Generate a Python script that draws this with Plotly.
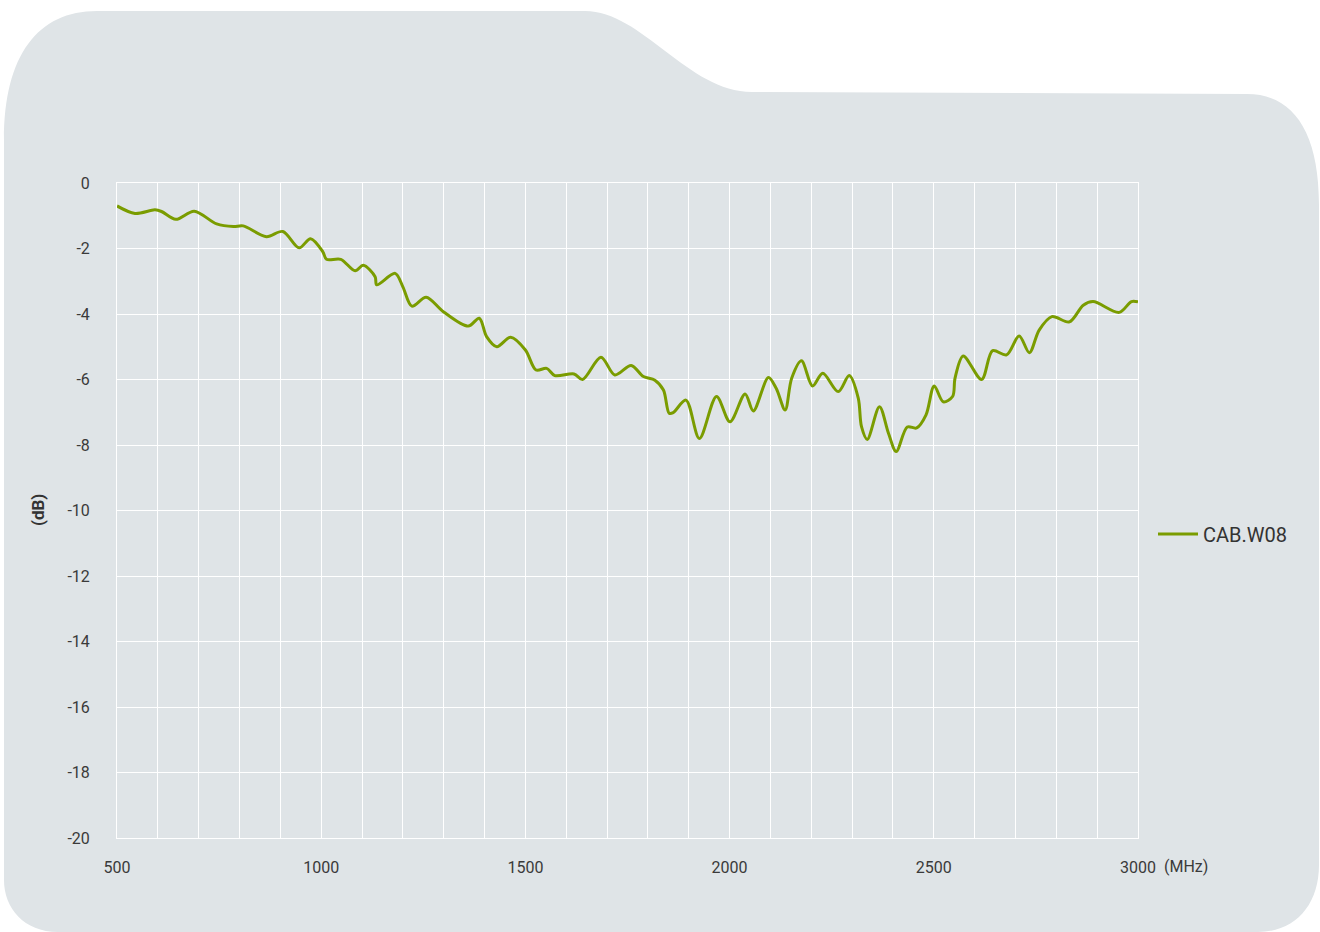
import plotly.graph_objects as go

# ---- data ----
freq_mhz = [500, 544, 593, 609, 644, 689, 744, 785, 809, 866, 906, 946, 974, 1004, 1013,
            1048, 1083, 1103, 1132, 1136, 1181, 1200, 1222, 1257, 1299, 1360, 1387, 1405,
            1430, 1464, 1500, 1526, 1552, 1572, 1619, 1640, 1685, 1719, 1759, 1789, 1817,
            1838, 1852, 1862, 1893, 1926, 1968, 2001, 2038, 2058, 2095, 2114, 2136, 2152,
            2176, 2203, 2228, 2266, 2293, 2315, 2323, 2337, 2367, 2389, 2408, 2435, 2458,
            2481, 2501, 2523, 2546, 2552, 2572, 2617, 2644, 2678, 2709, 2734, 2758, 2789,
            2832, 2866, 2890, 2954, 2984, 3000]
loss_db = [-0.70, -0.93, -0.82, -0.87, -1.11, -0.86, -1.25, -1.33, -1.31, -1.64, -1.48, -1.98,
           -1.70, -2.10, -2.33, -2.33, -2.68, -2.51, -2.86, -3.11, -2.76, -3.17, -3.76, -3.49,
           -3.93, -4.37, -4.13, -4.69, -5.00, -4.71, -5.10, -5.71, -5.66, -5.88, -5.83, -6.00,
           -5.32, -5.86, -5.57, -5.91, -6.02, -6.32, -7.03, -7.01, -6.63, -7.80, -6.52, -7.29,
           -6.44, -6.96, -5.94, -6.27, -6.93, -5.96, -5.43, -6.20, -5.81, -6.37, -5.88, -6.57,
           -7.44, -7.83, -6.83, -7.64, -8.20, -7.45, -7.48, -7.08, -6.20, -6.68, -6.52, -5.96,
           -5.28, -6.00, -5.12, -5.25, -4.67, -5.18, -4.49, -4.08, -4.24, -3.73, -3.62, -3.95,
           -3.62, -3.63]
series_name = "CAB.W08"
x_tick_vals = [500, 1000, 1500, 2000, 2500, 3000]
x_tick_text = ["500", "1000", "1500", "2000", "2500", "3000"]
y_tick_vals = [0, -2, -4, -6, -8, -10, -12, -14, -16, -18, -20]
y_tick_text = ["0", "-2", "-4", "-6", "-8", "-10", "-12", "-14", "-16", "-18", "-20"]

# ---- layout geometry (page body margin removed via post_script) ----
W, H = 1320, 932
ML, MT = 117, 183
MR, MB = W - 1138, H - 838
PW, PH = W - ML - MR, H - MT - MB

LINE_COLOR = "#7a9c00"
BG_COLOR = "#dfe4e7"
TXT_COLOR = "#3a3a3a"
TICK_FONT = "Roboto, sans-serif"


def px(x, y):
    """screen pixel -> paper coordinates"""
    return f"{(x - ML) / PW:.5f},{(H - MB - y) / PH:.5f}"


def pxx(x):
    return (x - ML) / PW


def pxy(y):
    return (H - MB - y) / PH


folder_path = (
    f"M {px(4, 880)} L {px(4, 140)} "
    f"C {px(4, 55)} {px(38, 11)} {px(97, 11)} "
    f"L {px(585, 11)} "
    f"C {px(642, 11)} {px(688, 92)} {px(752, 92)} "
    f"L {px(1247, 94)} "
    f"C {px(1292, 94)} {px(1319, 130)} {px(1319, 205)} "
    f"L {px(1319, 865)} "
    f"C {px(1319, 905)} {px(1295, 932)} {px(1258, 932)} "
    f"L {px(58, 932)} "
    f"C {px(24, 932)} {px(4, 908)} {px(4, 880)} Z"
)

fig = go.Figure()
fig.add_trace(go.Scatter(
    x=freq_mhz, y=loss_db, mode="lines", name=series_name,
    line=dict(color=LINE_COLOR, width=3, shape="spline", smoothing=0.9),
))

fig.update_layout(
    width=W, height=H,
    margin=dict(l=ML, r=MR, t=MT, b=MB, autoexpand=False),
    paper_bgcolor="white",
    plot_bgcolor="rgba(0,0,0,0)",
    showlegend=True,
    legend=dict(
        x=pxx(1153), y=pxy(534), xanchor="left", yanchor="middle",
        itemwidth=40,
        bgcolor="rgba(0,0,0,0)", font=dict(family="Roboto, sans-serif", size=20, color="#333333"),
    ),
    shapes=[dict(type="path", xref="paper", yref="paper", path=folder_path,
                 fillcolor=BG_COLOR, line=dict(width=0), layer="below")],
    xaxis=dict(
        range=[500, 3000], tickvals=x_tick_vals, ticktext=x_tick_text,
        showgrid=True, gridcolor="white", gridwidth=1,
        minor=dict(dtick=100, tick0=500, showgrid=True, gridcolor="white", gridwidth=1),
        zeroline=False, showline=True, linecolor="white", linewidth=1, mirror=True,
        ticks="", ticklabelstandoff=15,
        tickfont=dict(family=TICK_FONT, size=16, color=TXT_COLOR),
    ),
    yaxis=dict(
        range=[-20, 0], tickvals=y_tick_vals, ticktext=y_tick_text,
        showgrid=True, gridcolor="white", gridwidth=1,
        zeroline=False, showline=True, linecolor="white", linewidth=1, mirror=True,
        ticks="", ticklabelstandoff=23,
        tickfont=dict(family=TICK_FONT, size=16, color=TXT_COLOR),
    ),
    annotations=[
        dict(text="<b>(dB)</b>", xref="paper", yref="paper",
             x=pxx(38), y=pxy(510), textangle=-90,
             showarrow=False, xanchor="center", yanchor="middle",
             font=dict(family="Roboto, sans-serif", size=17, color="#333333")),
        dict(text="(MHz)", xref="paper", yref="paper",
             x=pxx(1162), y=pxy(866),
             showarrow=False, xanchor="left", yanchor="middle",
             font=dict(family=TICK_FONT, size=16, color=TXT_COLOR)),
    ],
)

fig.write_html("out.html",
               config={"displayModeBar": False},
               post_script="document.body.style.margin='0';document.body.style.overflow='hidden';")
